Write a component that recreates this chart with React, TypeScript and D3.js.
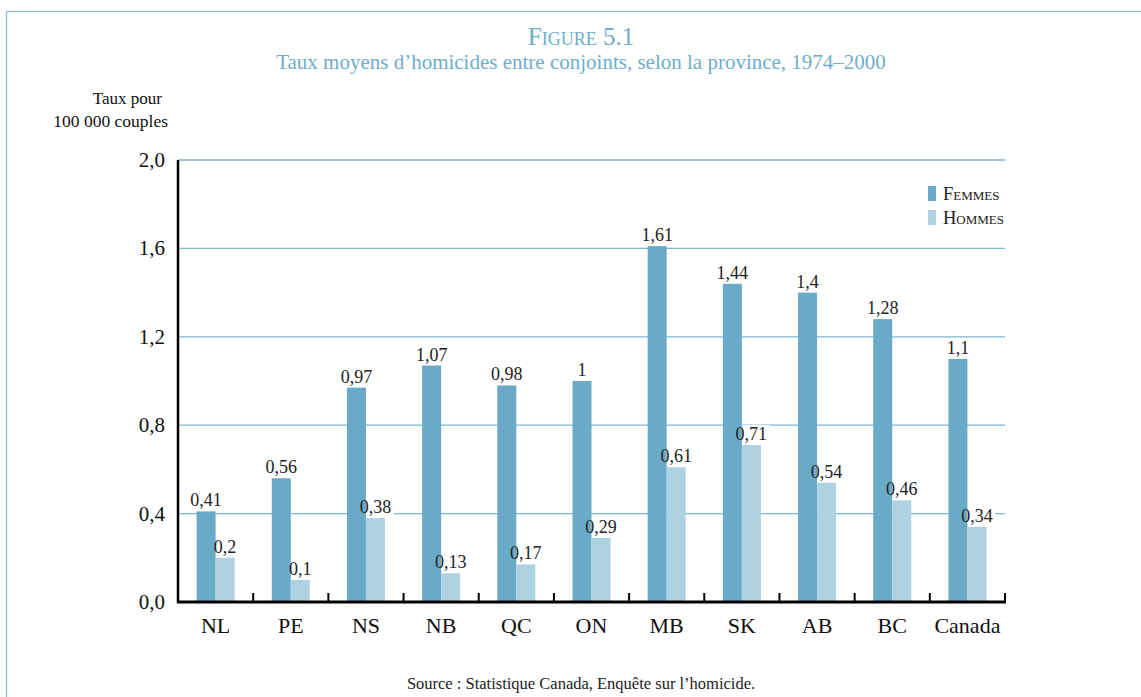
import React from "react";
import * as d3 from "d3";

const categories = ["NL", "PE", "NS", "NB", "QC", "ON", "MB", "SK", "AB", "BC", "Canada"];
const femmes = [0.41, 0.56, 0.97, 1.07, 0.98, 1, 1.61, 1.44, 1.4, 1.28, 1.1];
const hommes = [0.2, 0.1, 0.38, 0.13, 0.17, 0.29, 0.61, 0.71, 0.54, 0.46, 0.34];
const yTicks = [0, 0.4, 0.8, 1.2, 1.6, 2.0];
const seriesNames = ["Femmes", "Hommes"];

const W = 1141, H = 697;
const C_F = "#6aaac9";
const C_H = "#aed2e2";
const C_GRID = "#7db7d1";
const C_TITLE = "#6eaecb";
const FONT = "'Liberation Serif', 'DejaVu Serif', serif";

const fmt = (v: number) => String(v).replace(".", ",");
const fmtTick = (v: number) => v.toFixed(1).replace(".", ",");

export default function App() {
  const x = d3.scaleBand<string>().domain(categories).range([178, 1005]).paddingInner(0).paddingOuter(0);
  const y = d3.scaleLinear().domain([0, 2]).range([602, 160]);
  const bw = 19;
  const series = [femmes, hommes];
  const colors = [C_F, C_H];

  const labels: { x: number; y: number; t: string }[] = [];
  categories.forEach((c, i) => {
    const cx = x(c)! + x.bandwidth() / 2;
    series.forEach((s, k) => {
      const bx = k === 0 ? cx - bw : cx;
      labels.push({ x: bx + bw / 2, y: y(s[i]) - 5, t: fmt(s[i]) });
    });
  });

  return (
    <svg width={W} height={H} style={{ position: "absolute", left: 0, top: 0, background: "#fff" }} fontFamily={FONT}>
      <rect x={6.5} y={11.5} width={W + 20} height={H + 20} fill="none" stroke="#8cc0d8" strokeWidth={1.3} />
      <text x={581} y={45} textAnchor="middle" fill={C_TITLE} fontSize={25} fontFamily={FONT} style={{ fontVariant: "small-caps" }}>
        Figure 5.1
      </text>
      <text x={581} y={69} textAnchor="middle" fill={C_TITLE} fontSize={21} fontFamily={FONT}>
        Taux moyens d’homicides entre conjoints, selon la province, 1974–2000
      </text>
      <text x={162} y={104} textAnchor="end" fontSize={17} fill="#111" fontFamily={FONT}>Taux pour</text>
      <text x={168} y={127} textAnchor="end" fontSize={17.5} fill="#111" fontFamily={FONT}>100 000 couples</text>

      {yTicks.filter((t) => t > 0).map((t) => (
        <line key={"g" + t} x1={178} x2={1005} y1={y(t)} y2={y(t)} stroke={C_GRID} strokeWidth={1.3} />
      ))}
      {yTicks.map((t) => (
        <text key={"yt" + t} x={165} y={y(t) + 7} textAnchor="end" fontSize={21} fill="#111" fontFamily={FONT}>
          {fmtTick(t)}
        </text>
      ))}

      {labels.map((l, i) => (
        <rect key={"lb" + i} x={l.x - l.t.length * 4.6} y={l.y - 15} width={l.t.length * 9.2} height={18} fill="#fff" />
      ))}

      {categories.map((c, i) => {
        const cx = x(c)! + x.bandwidth() / 2;
        return (
          <g key={c}>
            {series.map((s, k) => (
              <rect key={k} x={k === 0 ? cx - bw : cx} y={y(s[i])} width={bw} height={y(0) - y(s[i])} fill={colors[k]} />
            ))}
            <text x={cx} y={633} textAnchor="middle" fontSize={22} fill="#111" fontFamily={FONT}>{c}</text>
          </g>
        );
      })}

      {labels.map((l, i) => (
        <text key={"lt" + i} x={l.x} y={l.y} textAnchor="middle" fontSize={18} fill="#222" fontFamily={FONT}>{l.t}</text>
      ))}

      <line x1={178} x2={178} y1={160} y2={603} stroke="#000" strokeWidth={2.5} />
      <line x1={177} x2={1006} y1={602} y2={602} stroke="#000" strokeWidth={3} />
      {categories.map((c) => {
        const bx = x(c)! + x.bandwidth();
        return <line key={"tk" + c} x1={bx} x2={bx} y1={602} y2={593} stroke="#000" strokeWidth={2} />;
      })}

      {seriesNames.map((n, k) => (
        <g key={n}>
          <rect x={928} y={186 + k * 24} width={8} height={15} fill={colors[k]} />
          <text x={943} y={200 + k * 24} fontSize={18.5} fill="#222" fontFamily={FONT} style={{ fontVariant: "small-caps" }}>{n}</text>
        </g>
      ))}

      <text x={581} y={689} textAnchor="middle" fontSize={16.5} fill="#222" fontFamily={FONT}>
        Source : Statistique Canada, Enquête sur l’homicide.
      </text>
    </svg>
  );
}
